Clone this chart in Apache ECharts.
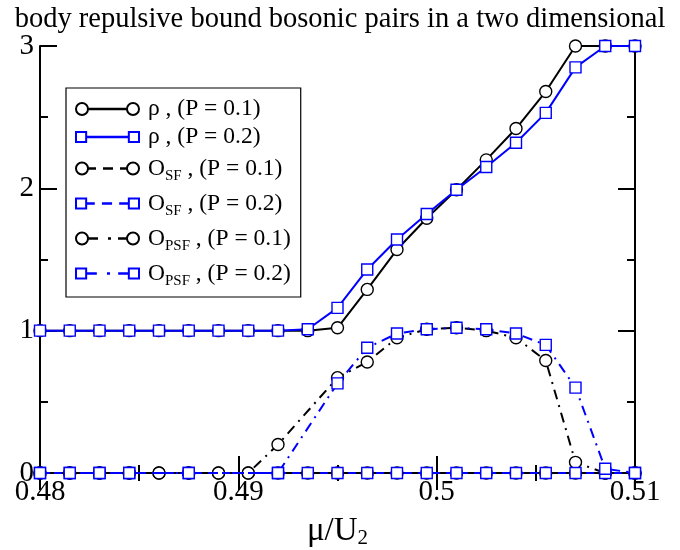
<!DOCTYPE html>
<html>
<head>
<meta charset="utf-8">
<script src="https://cdn.jsdelivr.net/npm/echarts@6/dist/echarts.min.js"></script>
<style>html,body{margin:0;padding:0;background:#fff;}#c{width:680px;height:550px;}</style>
</head>
<body>
<div id="c"></div>
<script>
var titleText = 'body repulsive bound bosonic pairs in a two dimensional';
var muValues = [0.48, 0.4815, 0.483, 0.4845, 0.486, 0.4875, 0.489, 0.4905, 0.492, 0.4935, 0.495,
                0.4965, 0.498, 0.4995, 0.501, 0.5025, 0.504, 0.5055, 0.507, 0.5085, 0.51];
var rhoP01 = [1, 1, 1, 1, 1, 1, 1, 1, 1, 1.0, 1.02, 1.29, 1.57, 1.79, 1.99, 2.2, 2.42, 2.68, 3, 3, 3];
var rhoP02 = [1, 1, 1, 1, 1, 1, 1, 1, 1, 1.01, 1.16, 1.43, 1.64, 1.82, 1.99, 2.15, 2.32, 2.53, 2.85, 3, 3];
var osfP01 = [0, 0, 0, 0, 0, 0, 0, 0, 0, 0, 0, 0, 0, 0, 0, 0, 0, 0, 0, 0, 0];
var osfP02 = [0, 0, 0, 0, null, 0, null, null, 0, 0, 0, 0, 0, 0, 0, 0, 0, 0, 0, 0, 0];
var opsfP01 = [0, 0, 0, 0, 0, 0, 0, 0, 0.2, null, 0.67, 0.78, 0.95, 1.01, 1.02, 1.0, 0.95, 0.79, 0.075, 0, 0];
var opsfP02 = [0, 0, 0, 0, null, 0, null, null, 0, null, 0.63, 0.88, 0.98, 1.01, 1.02, 1.01, 0.98, 0.9, 0.6, 0.03, 0];
var xTicks = [0.48, 0.49, 0.5, 0.51];
var yTicks = [0, 1, 2, 3];

var SERIF = '"Liberation Serif", "DejaVu Serif", serif';
var BLUE = '#0000ff';

function pairs(ys) {
  var out = [];
  for (var i = 0; i < muValues.length; i++) {
    if (ys[i] !== null) out.push([muValues[i], ys[i]]);
  }
  return out;
}

var legendText = {
  'rhoP01': '{t|ρ , (P = 0.1)}',
  'rhoP02': '{t|ρ , (P = 0.2)}',
  'osfP01': '{t|O}{s|SF}{t| , (P = 0.1)}',
  'osfP02': '{t|O}{s|SF}{t| , (P = 0.2)}',
  'opsfP01': '{t|O}{s|PSF}{t| , (P = 0.1)}',
  'opsfP02': '{t|O}{s|PSF}{t| , (P = 0.2)}'
};

// legend icons: marker at both ends of a short line sample
function seg(a, b) { return 'M' + a + ',5.7 L' + b + ',5.7 M' + a + ',6.3 L' + b + ',6.3 '; }
var circEnds = 'M0,6 A6,6 0 1 0 12,6 A6,6 0 1 0 0,6 Z M51,6 A6,6 0 1 0 63,6 A6,6 0 1 0 51,6 Z ';
var rectEnds = 'M0.5,1 L10.5,1 L10.5,11 L0.5,11 Z M52.5,1 L62.5,1 L62.5,11 L52.5,11 Z ';
var icons = {
  rhoP01: 'path://' + circEnds + seg(12, 51),
  rhoP02: 'path://' + rectEnds + seg(10.5, 52.5),
  osfP01: 'path://' + circEnds + seg(12, 20) + seg(27, 37) + seg(44, 51),
  osfP02: 'path://' + rectEnds + seg(10.5, 19) + seg(26, 36) + seg(43, 52.5),
  opsfP01: 'path://' + circEnds + seg(12, 22) + seg(32, 35) + seg(42, 51),
  opsfP02: 'path://' + rectEnds + seg(10.5, 21) + seg(31, 34) + seg(42, 52.5)
};

function mk(name, ys, color, symbol, lineType, z) {
  return {
    name: name, type: 'line', data: pairs(ys), z: z,
    connectNulls: true,
    symbol: symbol, symbolSize: symbol === 'circle' ? 12 : 11,
    showAllSymbol: true,
    lineStyle: { color: color, width: 2, type: lineType },
    itemStyle: { color: '#fff', borderColor: color, borderWidth: 1.4 },
    emphasis: { disabled: true },
    animation: false
  };
}

var dash = [8, 6];
var dashDot = [10, 6, 2, 6];

var chart = echarts.init(document.getElementById('c'), null, { renderer: 'canvas' });
var axisCommon = {
  type: 'value',
  axisLine: { show: true, lineStyle: { color: '#000', width: 2 } },
  axisTick: { show: true, inside: true, length: 17, lineStyle: { color: '#000', width: 2 } },
  minorTick: { show: true, splitNumber: 2, length: 8, lineStyle: { color: '#000', width: 2 } },
  splitLine: { show: false },
  minorSplitLine: { show: false }
};
var legendNames = ['rhoP01', 'rhoP02', 'osfP01', 'osfP02', 'opsfP01', 'opsfP02'];
chart.setOption({
  backgroundColor: '#fff',
  animation: false,
  title: {
    text: titleText, left: 'center', top: 0,
    textStyle: { fontFamily: SERIF, fontSize: 28.5, fontWeight: 'normal', color: '#000' }
  },
  grid: { left: 40, right: 45, top: 46, bottom: 77, containLabel: false, outerBoundsMode: 'none' },
  xAxis: [
    Object.assign({}, axisCommon, {
      min: 0.48, max: 0.51, interval: 0.01, position: 'bottom',
      name: '{a|μ/U}{s|2}', nameLocation: 'middle', nameGap: 40,
      nameTextStyle: {
        rich: {
          a: { fontFamily: SERIF, fontSize: 33, color: '#000', lineHeight: 36 },
          s: { fontFamily: SERIF, fontSize: 21, color: '#000', verticalAlign: 'bottom', lineHeight: 20 }
        }
      },
      axisLabel: {
        fontFamily: SERIF, fontSize: 29, color: '#000', margin: 5,
        formatter: function (v) { return xTicks.indexOf(Math.round(v * 1000) / 1000) >= 0 ? String(+v.toFixed(2)) : ''; }
      }
    }),
    Object.assign({}, axisCommon, {
      min: 0.48, max: 0.51, interval: 0.01, position: 'top',
      axisLabel: { show: false }
    })
  ],
  yAxis: [
    Object.assign({}, axisCommon, {
      min: 0, max: 3, interval: 1, position: 'left',
      axisLabel: {
        fontFamily: SERIF, fontSize: 29, color: '#000', margin: 6,
        formatter: function (v) { return yTicks.indexOf(v) >= 0 ? String(v) : ''; }
      }
    }),
    Object.assign({}, axisCommon, {
      min: 0, max: 3, interval: 1, position: 'right',
      axisLabel: { show: false }
    })
  ],
  legend: {
    orient: 'vertical', left: 66, top: 88,
    backgroundColor: '#fff',
    borderColor: '#000', borderWidth: 1.2, borderRadius: 0,
    padding: [9, 10, 8, 9],
    itemGap: 4,
    itemWidth: 63, itemHeight: 12,
    symbolKeepAspect: true,
    data: legendNames.map(function (n) { return { name: n, icon: icons[n] }; }),
    formatter: function (n) { return legendText[n]; },
    textStyle: {
      padding: [0, 0, 0, 4],
      rich: {
        t: { fontFamily: SERIF, fontSize: 23.5, color: '#000', lineHeight: 26 },
        s: { fontFamily: SERIF, fontSize: 15, color: '#000', lineHeight: 15, padding: [16, 0, 0, 0] }
      }
    },
    selectedMode: false
  },
  series: [
    mk('rhoP01', rhoP01, '#000', 'circle', 'solid', 2),
    mk('rhoP02', rhoP02, BLUE, 'rect', 'solid', 3),
    mk('osfP01', osfP01, '#000', 'circle', dash, 2),
    mk('osfP02', osfP02, BLUE, 'rect', dash, 3),
    mk('opsfP01', opsfP01, '#000', 'circle', dashDot, 2),
    mk('opsfP02', opsfP02, BLUE, 'rect', dashDot, 3)
  ]
});
</script>
</body>
</html>
